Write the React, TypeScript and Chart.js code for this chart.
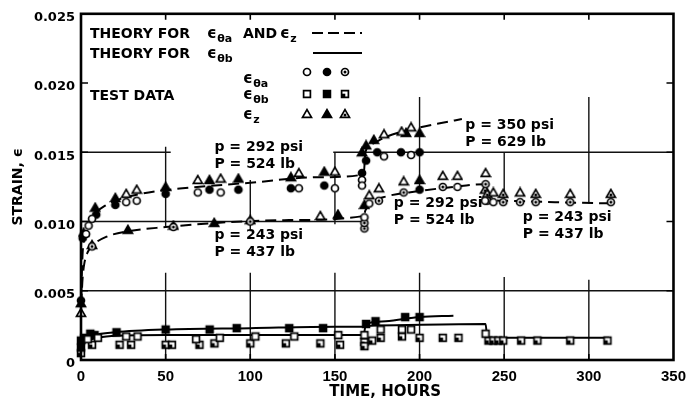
import React, { useEffect, useRef } from "react";
import { Chart, registerables } from "chart.js";

Chart.register(...registerables);

type Pt = [number, number];

// ---------- axes ----------
const xTickValues = [0, 50, 100, 150, 200, 250, 300, 350];
const yTickValues = [0, 0.005, 0.01, 0.015, 0.02, 0.025];
const xTitle = "TIME, HOURS";
const yTitle = "STRAIN, ϵ";

// ---------- theory curves ----------
// eps_theta_a and eps_z, test 292 psi -> 350 psi
const theoryAZHigh: Pt[] = [
  [0.2, 0.0048], [0.6, 0.0066], [1, 0.0078], [2, 0.0088], [4, 0.0096], [8, 0.0105],
  [15, 0.0112], [25, 0.0117], [40, 0.0121], [60, 0.0124], [100, 0.0128], [140, 0.0132],
  [167, 0.0134], [168, 0.0150], [172, 0.0156], [180, 0.0161], [190, 0.0165], [200, 0.0168],
  [212, 0.0171], [225, 0.0174],
];
// eps_theta_a and eps_z, test 243 -> 292 -> 243 psi
const theoryAZLow: Pt[] = [
  [0.2, 0.0040], [0.6, 0.0052], [1, 0.0060], [2, 0.0070], [4, 0.0078], [7, 0.0083],
  [15, 0.0089], [28, 0.0093], [50, 0.0096], [80, 0.0099], [120, 0.0101], [167, 0.0104],
  [168, 0.0108], [172, 0.0114], [180, 0.0118], [200, 0.0122], [220, 0.0125], [239, 0.0127],
  [240, 0.0117], [250, 0.0115], [280, 0.0114], [315, 0.0113],
];
// eps_theta_b, test 292 -> 350 psi
const theoryBHigh: Pt[] = [
  [0.2, 0.0005], [1, 0.0011], [3, 0.0015], [8, 0.0018], [20, 0.0020], [50, 0.0022],
  [100, 0.0023], [150, 0.0024], [167, 0.0024], [168, 0.0026], [180, 0.0028], [200, 0.0031],
  [220, 0.0032],
];
// eps_theta_b, test 243 -> 292 -> 243 psi
const theoryBLow: Pt[] = [
  [0.2, 0.0004], [2, 0.0012], [6, 0.0015], [15, 0.0017], [50, 0.0018], [167, 0.0018],
  [168, 0.0024], [175, 0.0025], [239, 0.0026], [240, 0.0016], [250, 0.0016], [312, 0.0016],
];

// ---------- test data ----------
const thetaAOpen: Pt[] = [
  [3, 0.0091], [4.5, 0.0097], [6.5, 0.0102], [26.7, 0.0114], [32.9, 0.0115], [69, 0.0121],
  [82.5, 0.0121], [128.7, 0.0124], [150, 0.0124], [166, 0.013], [166, 0.0126], [179, 0.0147],
  [195, 0.0148], [167.4, 0.0103], [170.3, 0.0113], [222.4, 0.0125], [238.7, 0.0115], [243.6, 0.0114],
];
const thetaAFilled: Pt[] = [
  [0, 0.0043], [1, 0.0088], [9, 0.0105], [20.3, 0.0112], [50, 0.012], [75.9, 0.0123],
  [93, 0.0123], [124, 0.0124], [143.7, 0.0126], [166, 0.0135], [168.4, 0.0144], [175, 0.015],
  [189, 0.015], [200, 0.015], [200, 0.0123],
];
const thetaADot: Pt[] = [
  [6.5, 0.0082], [54.6, 0.0096], [100, 0.01], [167.4, 0.0095], [167.4, 0.0099], [176, 0.0115],
  [190.6, 0.0121], [213.7, 0.0125], [239, 0.0127], [240, 0.0115], [249.4, 0.0114], [259.4, 0.0114],
  [268.6, 0.0114], [289, 0.0114], [313, 0.0114],
];
const thetaBOpen: Pt[] = [
  [4, 0.0015], [10, 0.0016], [26.7, 0.0017], [33.4, 0.0017], [68, 0.0015], [82, 0.0016],
  [103, 0.0017], [126, 0.0017], [152, 0.0018], [167.4, 0.0018], [177, 0.0022], [189.6, 0.0022],
  [195, 0.0022], [239, 0.0019],
];
const thetaBFilled: Pt[] = [
  [0, 0.0009], [0, 0.0014], [2, 0.0016], [5.5, 0.0019], [8, 0.0018], [21, 0.002], [50, 0.0022],
  [76, 0.0022], [92, 0.0023], [123, 0.0023], [143, 0.0023], [168.4, 0.0026], [174, 0.0028],
  [191.5, 0.0031], [200, 0.0031],
];
const thetaBDot: Pt[] = [
  [0, 0.0005], [6.5, 0.0011], [22.8, 0.0011], [29.6, 0.0011], [50, 0.0011], [53.7, 0.0011],
  [70, 0.0011], [78.8, 0.0012], [100, 0.0012], [121, 0.0012], [141.4, 0.0012], [153, 0.0011],
  [167.4, 0.0013], [167.4, 0.001], [172, 0.0014], [177, 0.0016], [189.6, 0.0017], [200, 0.0016],
  [213.7, 0.0016], [223, 0.0016], [240.7, 0.0014], [243.6, 0.0014], [246.5, 0.0014],
  [249.4, 0.0014], [260, 0.0014], [269.6, 0.0014], [289, 0.0014], [311, 0.0014],
];
const zOpen: Pt[] = [
  [0, 0.0034], [26.7, 0.012], [32.9, 0.0123], [69, 0.013], [82.5, 0.0131], [128.7, 0.0135],
  [150, 0.0136], [179, 0.0163], [189.4, 0.0165], [195, 0.0168], [141.4, 0.0104], [170.3, 0.0119],
  [176, 0.0124], [190.6, 0.0129], [213.7, 0.0133], [222.4, 0.0133], [239, 0.0135], [243.6, 0.0121],
  [259.4, 0.0121], [289, 0.012],
];
const zFilled: Pt[] = [
  [0, 0.0041], [1.5, 0.0092], [8.4, 0.011], [20.3, 0.0117], [50, 0.0125], [75.9, 0.013],
  [93, 0.0131], [124, 0.0132], [143.7, 0.0136], [166, 0.015], [168.4, 0.0155], [173, 0.0159],
  [192, 0.0164], [200, 0.0164], [27.7, 0.0094], [54.6, 0.0097], [78.7, 0.0099], [151.8, 0.0105],
  [167.4, 0.0112], [200, 0.013],
];
const zDot: Pt[] = [
  [6.5, 0.0083], [100, 0.0101], [238.7, 0.0123], [240, 0.012], [249.4, 0.012], [268.6, 0.012],
  [313, 0.012],
];

// ---------- grid segments (value, from, to) ----------
const gridH: [number, number, number][] = [
  [0.005, 0, 350], [0.01, 0, 168], [0.015, 0, 53], [0.015, 149, 350],
];
const gridV: [number, number, number][] = [
  [50, 0, 0.0063], [50, 0.0096, 0.0154],
  [100, 0, 0.0063], [100, 0.0093, 0.013],
  [150, 0, 0.0063], [150, 0.0098, 0.015],
  [200, 0, 0.0063], [200, 0.0123, 0.019],
  [250, 0, 0.006], [250, 0.0117, 0.015],
  [300, 0, 0.0058], [300, 0.0113, 0.019],
];

// ---------- annotations ----------
const notes: { h: number; s: number; lines: string[] }[] = [
  { h: 78.8, s: 0.01538, lines: ["p = 292 psi", "P = 524 lb"] },
  { h: 78.8, s: 0.00901, lines: ["p = 243 psi", "P = 437 lb"] },
  { h: 227, s: 0.01694, lines: ["p = 350 psi", "P = 629 lb"] },
  { h: 184.8, s: 0.0113, lines: ["p = 292 psi", "P = 524 lb"] },
  { h: 261, s: 0.01029, lines: ["p = 243 psi", "P = 437 lb"] },
];

const FONT = "'DejaVu Sans', sans-serif";

function makeMarker(shape: string, style: string): HTMLCanvasElement {
  const size = 12;
  const c = document.createElement("canvas");
  c.width = size;
  c.height = size;
  const g = c.getContext("2d")!;
  const m = size / 2;
  g.lineWidth = 1.7;
  g.strokeStyle = "#000";
  g.fillStyle = style === "filled" ? "#000" : "#fff";
  g.beginPath();
  if (shape === "circle") g.arc(m, m, 3.5, 0, Math.PI * 2);
  else if (shape === "square") g.rect(m - 3.4, m - 3.4, 6.8, 6.8);
  else {
    g.moveTo(m, m - 4.4);
    g.lineTo(m + 4.5, m + 3.4);
    g.lineTo(m - 4.5, m + 3.4);
    g.closePath();
  }
  g.fill();
  g.stroke();
  if (style === "dot") {
    g.fillStyle = "#000";
    g.beginPath();
    if (shape === "square") g.rect(m - 3.4, m - 0.3, 3.7, 3.7);
    else g.arc(m, shape === "triangle" ? m + 0.9 : m, 1.5, 0, Math.PI * 2);
    g.fill();
  }
  return c;
}

function drawEps(ctx: CanvasRenderingContext2D, x: number, yBase: number, sub: string) {
  ctx.font = `bold 15px ${FONT}`;
  ctx.fillText("ϵ", x, yBase);
  const w = ctx.measureText("ϵ").width;
  ctx.font = `bold 11px ${FONT}`;
  ctx.fillText(sub, x + w + 0.5, yBase + 4);
}

export default function App() {
  const ref = useRef<HTMLCanvasElement | null>(null);

  useEffect(() => {
    document.body.style.margin = "0";
    const canvas = ref.current!;
    const mk = {
      circle: { open: makeMarker("circle", "open"), filled: makeMarker("circle", "filled"), dot: makeMarker("circle", "dot") },
      square: { open: makeMarker("square", "open"), filled: makeMarker("square", "filled"), dot: makeMarker("square", "dot") },
      triangle: { open: makeMarker("triangle", "open"), filled: makeMarker("triangle", "filled"), dot: makeMarker("triangle", "dot") },
    } as Record<string, Record<string, HTMLCanvasElement>>;

    const toXY = (a: Pt[]) => a.map(([x, y]) => ({ x, y }));
    const pts = (label: string, data: Pt[], shape: string, style: string) => ({
      label,
      data: toXY(data),
      showLine: false,
      pointStyle: mk[shape][style],
      pointRadius: 4,
      order: 0,
      clip: 8,
    });
    const theory = (label: string, data: Pt[], dashed: boolean) => ({
      label,
      data: toXY(data),
      showLine: true,
      pointRadius: 0,
      borderColor: "#000",
      borderWidth: 2,
      borderDash: dashed ? [11, 6] : [],
      cubicInterpolationMode: "monotone" as const,
      order: 10,
      clip: 8,
    });

    const bgPlugin = {
      id: "bg",
      beforeDraw(chart: any) {
        const c = chart.ctx;
        c.save();
        c.fillStyle = "#fff";
        c.fillRect(0, 0, chart.width, chart.height);
        c.restore();
      },
    };

    const gridPlugin = {
      id: "gridSeg",
      beforeDatasetsDraw(chart: any) {
        const { ctx: c, scales } = chart;
        const xs = scales.x, ys = scales.y;
        c.save();
        c.strokeStyle = "#111";
        c.lineWidth = 1.4;
        c.beginPath();
        for (const [v, a, b] of gridH) {
          const py = ys.getPixelForValue(v);
          c.moveTo(xs.getPixelForValue(a), py);
          c.lineTo(xs.getPixelForValue(b), py);
        }
        for (const [v, a, b] of gridV) {
          const px = xs.getPixelForValue(v);
          c.moveTo(px, ys.getPixelForValue(a));
          c.lineTo(px, ys.getPixelForValue(b));
        }
        c.stroke();
        c.restore();
      },
    };

    const framePlugin = {
      id: "frame",
      afterDraw(chart: any) {
        const { ctx: c, chartArea: a, scales } = chart;
        const xs = scales.x, ys = scales.y;
        c.save();
        c.strokeStyle = "#000";
        c.lineWidth = 1.6;
        c.beginPath();
        for (const v of xTickValues.slice(1, -1)) {
          const px = xs.getPixelForValue(v);
          c.moveTo(px, a.top); c.lineTo(px, a.top + 6);
          c.moveTo(px, a.bottom); c.lineTo(px, a.bottom - 6);
        }
        for (const v of yTickValues.slice(1, -1)) {
          const py = ys.getPixelForValue(v);
          c.moveTo(a.left, py); c.lineTo(a.left + 7, py);
          c.moveTo(a.right, py); c.lineTo(a.right - 7, py);
        }
        c.stroke();
        c.lineWidth = 2.6;
        c.strokeRect(a.left, a.top, a.right - a.left, a.bottom - a.top);
        // x-axis title (slightly right of centre, as in the original)
        c.fillStyle = "#000";
        c.font = `bold 15px ${FONT}`;
        c.textAlign = "center";
        c.textBaseline = "middle";
        c.fillText(xTitle, (a.left + a.right) / 2 + 8, 392);
        c.restore();
      },
    };

    const textPlugin = {
      id: "texts",
      afterDatasetsDraw(chart: any) {
        const { ctx: c, chartArea: a, scales } = chart;
        const xs = scales.x, ys = scales.y;
        const L = a.left;
        c.save();
        c.fillStyle = "#000";
        c.textAlign = "left";
        c.textBaseline = "alphabetic";
        // legend
        c.font = `bold 14px ${FONT}`;
        c.fillText("THEORY FOR", L + 9, 38);
        drawEps(c, L + 126, 38, "θa");
        c.font = `bold 14px ${FONT}`;
        c.fillText("AND", L + 162, 38);
        drawEps(c, L + 199, 38, "z");
        c.font = `bold 14px ${FONT}`;
        c.fillText("THEORY FOR", L + 9, 58);
        drawEps(c, L + 126, 58, "θb");
        c.font = `bold 14px ${FONT}`;
        c.fillText("TEST DATA", L + 9, 100);
        drawEps(c, L + 162, 83, "θa");
        drawEps(c, L + 162, 99, "θb");
        drawEps(c, L + 162, 119, "z");
        c.strokeStyle = "#000";
        c.lineWidth = 2;
        c.setLineDash([11, 5]);
        c.beginPath(); c.moveTo(L + 231, 33); c.lineTo(L + 281, 33); c.stroke();
        c.setLineDash([]);
        c.beginPath(); c.moveTo(L + 232, 53); c.lineTo(L + 281, 53); c.stroke();
        const cols = [L + 226, L + 246, L + 264];
        const styles = ["open", "filled", "dot"];
        const rows: [string, number][] = [["circle", 72], ["square", 94], ["triangle", 114]];
        for (const [shape, yy] of rows) {
          styles.forEach((st, i) => {
            const img = mk[shape][st];
            c.drawImage(img, cols[i] - img.width / 2, yy - img.height / 2);
          });
        }
        // annotations
        c.font = `bold 14px ${FONT}`;
        c.textBaseline = "middle";
        for (const n of notes) {
          const px = xs.getPixelForValue(n.h);
          const py = ys.getPixelForValue(n.s);
          n.lines.forEach((t, i) => c.fillText(t, px, py + i * 17));
        }
        c.restore();
      },
    };

    const chart = new Chart(canvas, {
      type: "scatter",
      data: {
        datasets: [
          pts("εθa open", thetaAOpen, "circle", "open"),
          pts("εθa filled", thetaAFilled, "circle", "filled"),
          pts("εθa dot", thetaADot, "circle", "dot"),
          pts("εθb open", thetaBOpen, "square", "open"),
          pts("εθb filled", thetaBFilled, "square", "filled"),
          pts("εθb dot", thetaBDot, "square", "dot"),
          pts("εz open", zOpen, "triangle", "open"),
          pts("εz filled", zFilled, "triangle", "filled"),
          pts("εz dot", zDot, "triangle", "dot"),
          theory("Theory εθa, εz (292/350 psi)", theoryAZHigh, true),
          theory("Theory εθa, εz (243/292 psi)", theoryAZLow, true),
          theory("Theory εθb (292/350 psi)", theoryBHigh, false),
          theory("Theory εθb (243/292 psi)", theoryBLow, false),
        ] as any,
      },
      options: {
        animation: false,
        responsive: false,
        events: [],
        layout: { padding: { top: 13, right: 9, left: 0, bottom: 0 } },
        plugins: { legend: { display: false }, tooltip: { enabled: false } },
        scales: {
          x: {
            type: "linear",
            min: 0,
            max: 350,
            afterFit: (s: any) => { s.height = 43; },
            afterBuildTicks: (s: any) => { s.ticks = xTickValues.map((v) => ({ value: v })); },
            grid: { display: false, drawTicks: false },
            border: { display: false },
            ticks: {
              padding: 8,
              color: "#000",
              font: { family: "'Liberation Sans', sans-serif", size: 15, weight: "bold" },
              maxRotation: 0,
            },
            title: { display: false },
          },
          y: {
            type: "linear",
            min: 0,
            max: 0.025,
            afterFit: (s: any) => { s.width = 81; },
            afterBuildTicks: (s: any) => { s.ticks = yTickValues.map((v) => ({ value: v })); },
            grid: { display: false, drawTicks: false },
            border: { display: false },
            ticks: {
              padding: 6,
              labelOffset: 4,
              color: "#000",
              font: { family: FONT, size: 13, weight: "bold" },
              callback: (v: any) => (Number(v) === 0 ? "0" : Number(v).toFixed(3)),
            },
            title: {
              display: true,
              text: yTitle,
              color: "#000",
              font: { family: FONT, size: 14, weight: "bold" },
              padding: { top: 10, bottom: 0 },
            },
          },
        },
      },
      plugins: [bgPlugin, gridPlugin, framePlugin, textPlugin],
    });
    return () => chart.destroy();
  }, []);

  return (
    <div style={{ width: 694, height: 403 }}>
      <canvas ref={ref} width={694} height={403} style={{ display: "block" }} />
    </div>
  );
}
